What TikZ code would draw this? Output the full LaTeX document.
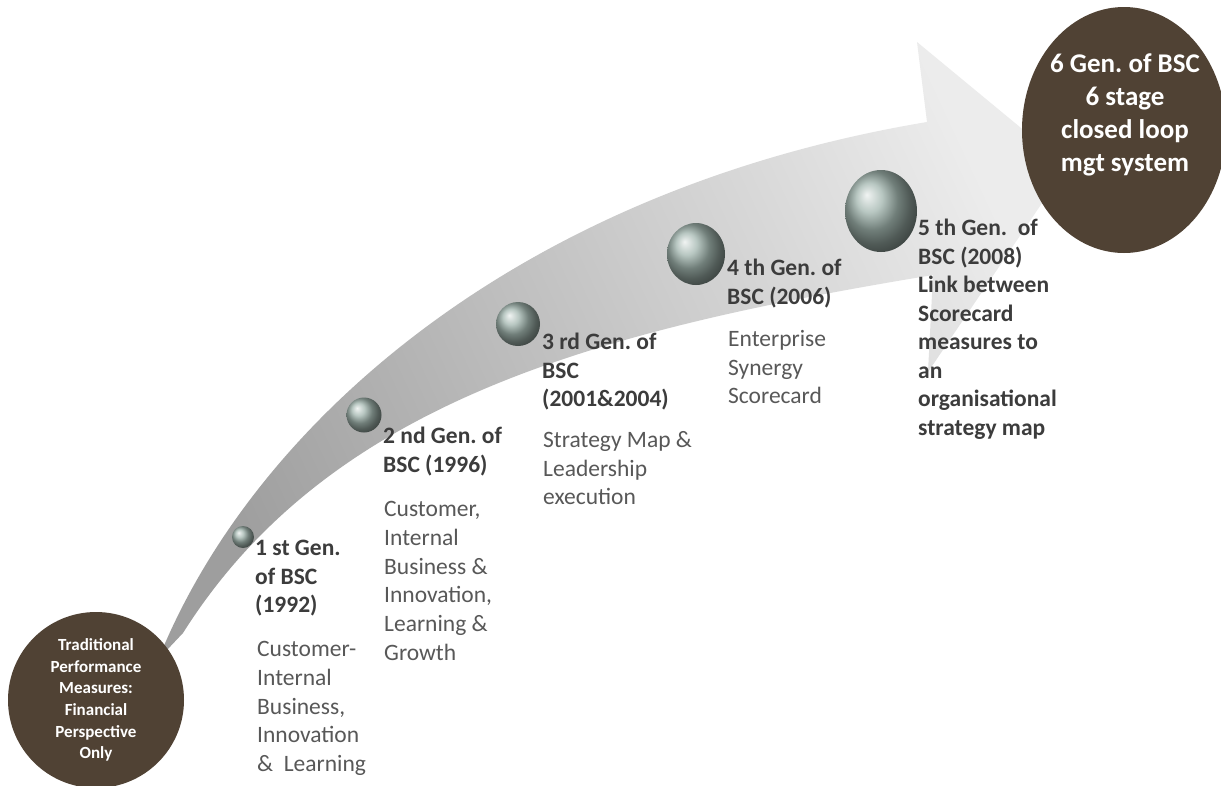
\documentclass[tikz,border=0pt]{standalone}
\usepackage{fontspec}
\setmainfont{Carlito}
\usetikzlibrary{shapes.geometric}
\definecolor{browncirc}{RGB}{80,66,52}
\definecolor{arrowdark}{RGB}{158,158,158}
\definecolor{arrowmid}{RGB}{192,192,192}
\definecolor{arrowlight}{RGB}{236,236,236}
\definecolor{bubble}{RGB}{160,180,173}
\definecolor{headtxt}{RGB}{60,60,60}
\definecolor{bodytxt}{RGB}{88,88,88}
\frenchspacing
\tikzset{
  heading/.style={anchor=north west, inner sep=0pt, align=left, text=headtxt,
    font=\fontsize{23.5}{28.5}\selectfont\bfseries, execute at begin node={\strut}},
  bodytext/.style={anchor=north west, inner sep=0pt, align=left, text=bodytxt,
    font=\fontsize{23.5}{28.8}\selectfont, execute at begin node={\strut}},
  glassball/.style={circle, inner sep=0pt, shading=ball, ball color=bubble},
  bigdisc/.style={fill=browncirc, inner sep=0pt, text=white, align=center}
}
\begin{document}
\begin{tikzpicture}[x=1pt,y=-1pt]
\useasboundingbox (0,0) rectangle (1221,785);
\fill[white] (0,0) rectangle (1221,785);
% curved arrow
\shade[left color=arrowdark, middle color=arrowmid, right color=arrowlight, shading angle=115]
  (150,668) -- (163,648)
  .. controls (260,420) and (520,190) .. (927,122)
  -- (917,42) -- (1067,166) -- (928,372) -- (933,275)
  .. controls (600,330) and (330,400) .. (183,633)
  -- cycle;
% glass bubbles
\node[glassball, minimum size=22] (b1) at (243,537) {};
\node[glassball, minimum size=35] (b2) at (364,415) {};
\node[glassball, minimum size=44] (b3) at (518,324) {};
\node[glassball, ellipse, minimum width=58, minimum height=62] (b4) at (696,254) {};
\node[glassball, ellipse, minimum width=72, minimum height=82] (b5) at (881,211) {};
% brown discs
\node[bigdisc, circle, minimum size=176, font=\fontsize{17}{21.6}\selectfont\bfseries] (trad) at (96,700)
  {Traditional\\Performance\\Measures:\\Financial\\Perspective\\Only};
\node[bigdisc, ellipse, minimum width=204, minimum height=246] (sixth) at (1124,130) {};
\node[text=white, align=center, inner sep=0pt, font=\fontsize{27}{33}\selectfont\bfseries] (sixtxt) at (1125,115)
  {6 Gen. of BSC\\6 stage\\closed loop\\mgt system};
% texts (y = first baseline - 20)
\node[heading] (h1) at (255,540) {1 st Gen.\\of BSC\\(1992)};
\node[bodytext] (t1) at (257,641) {Customer-\\Internal\\Business,\\Innovation\\\&\ \ Learning};
\node[heading] (h2) at (383,427) {2 nd Gen. of\\BSC (1996)};
\node[bodytext] (t2) at (384,501) {Customer,\\Internal\\Business \&\\Innovation,\\Learning \&\\Growth};
\node[heading] (h3) at (542,333) {3 rd Gen. of\\BSC\\(2001\&2004)};
\node[bodytext] (t3) at (543,431) {Strategy Map \&\\Leadership\\execution};
\node[heading] (h4) at (727,259) {4 th Gen. of\\BSC (2006)};
\node[bodytext] (t4) at (728,330) {Enterprise\\Synergy\\Scorecard};
\node[heading] (h5) at (918,219) {5 th Gen.\ \ of\\BSC (2008)\\Link between\\Scorecard\\measures to\\an\\organisational\\strategy map};
\end{tikzpicture}
\end{document}
